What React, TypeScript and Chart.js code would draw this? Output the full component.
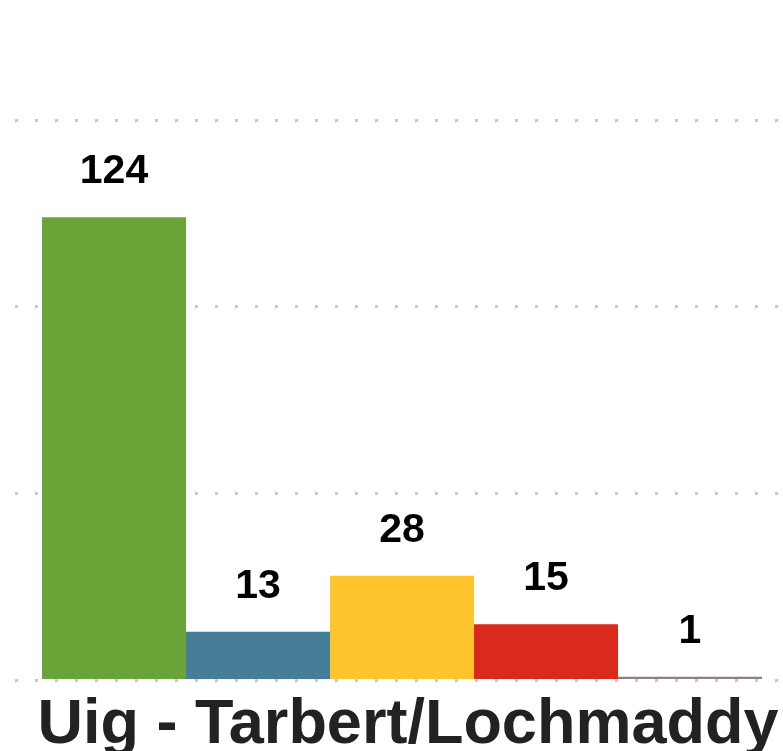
import React, { useEffect, useRef } from "react";
import { Chart, registerables } from "chart.js";

Chart.register(...registerables);

const categories = ["Uig - Tarbert/Lochmaddy"];
const seriesNames = ["Series 1", "Series 2", "Series 3", "Series 4", "Series 5"];
const seriesValues = [[124], [13], [28], [15], [1]];
const seriesColors = ["#6aa338", "#467e99", "#fec42e", "#da291d", "#8c8078"];
const yTicks = [0, 50, 100, 150];

const valueLabels = {
  id: "valueLabels",
  afterDatasetsDraw(chart: any) {
    const ctx = chart.ctx;
    ctx.save();
    ctx.font = "bold 41px 'Liberation Sans', Arial, sans-serif";
    ctx.fillStyle = "#000";
    ctx.textAlign = "center";
    ctx.textBaseline = "alphabetic";
    chart.data.datasets.forEach((ds: any, i: number) => {
      const meta = chart.getDatasetMeta(i);
      meta.data.forEach((bar: any, j: number) => {
        ctx.fillText(String(ds.data[j]), bar.x, bar.y - 34);
      });
    });
    ctx.restore();
  },
};

export default function App() {
  const ref = useRef<HTMLCanvasElement>(null);
  useEffect(() => {
    document.body.style.margin = "0";
    const chart = new Chart(ref.current!, {
      type: "bar",
      data: {
        labels: categories,
        datasets: seriesNames.map((n, i) => ({
          label: n,
          data: seriesValues[i],
          backgroundColor: seriesColors[i],
          borderWidth: 0,
          categoryPercentage: 0.9302,
          barPercentage: 1,
        })),
      },
      options: {
        responsive: false,
        animation: false,
        layout: { padding: { left: 15, right: 11, top: 120, bottom: 10 } },
        plugins: { legend: { display: false }, tooltip: { enabled: false } },
        scales: {
          x: {
            grid: { display: false, drawTicks: false },
            border: { display: false },
            ticks: {
              color: "#222",
              font: { family: "'Liberation Sans', Arial, sans-serif", size: 63, weight: "bold" },
              padding: 7,
              labelOffset: 6,
            },
          },
          y: {
            display: true,
            min: 0,
            max: 150,
            afterBuildTicks(scale: any) {
              scale.ticks = yTicks.map((v) => ({ value: v }));
            },
            ticks: { display: false },
            grid: { color: "#c8c8c8", lineWidth: 3, drawTicks: false },
            border: { display: false, dash: [3, 17] },
          },
        },
      },
      plugins: [valueLabels],
    });
    return () => chart.destroy();
  }, []);
  return (
    <div style={{ width: 783, height: 751, overflow: "hidden", position: "relative" }}>
      <canvas ref={ref} width={800} height={780} style={{ display: "block" }} />
    </div>
  );
}
